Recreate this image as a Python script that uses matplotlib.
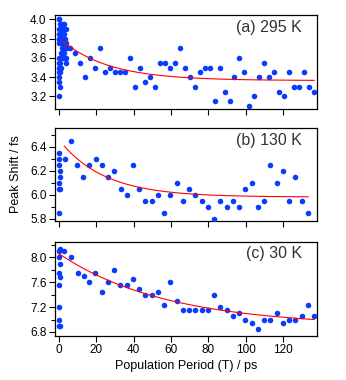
"""
Peak shift vs population period at three temperatures, with exponential fits
"""

import numpy as np
import matplotlib.pyplot as plt

plt.rcParams['font.family'] = ['Liberation Sans', 'DejaVu Sans']

# (a) 295 K
t_a = [0, 0, 0, 0, 0, 0, 0, 0, 0, 0.3, 0.3, 0.3, 0.3, 0.3, 0.6, 0.6, 0.6, 0.6, 0.6,
       1.0, 1.0, 1.0, 1.0, 1.4, 1.4, 1.4, 1.8, 1.8, 1.8, 2.2, 2.2, 2.2, 2.2,
       2.6, 2.6, 2.6, 3.0, 3.0, 3.0, 3.4, 3.4, 3.8, 3.8, 3.8, 3.8, 4.4,
       6.0, 8.9, 11.6, 14.2, 16.9, 19.6, 22.3, 24.9, 27.6, 30.3, 32.9, 35.6,
       38.3, 40.9, 43.6, 46.3, 49.0, 51.6, 54.3, 57.0, 59.6, 62.3, 65.0, 67.6,
       70.3, 73.0, 75.6, 78.3, 81.0, 83.7, 86.3, 89.0, 91.7, 93.8, 96.5, 99.2,
       101.8, 104.5, 107.2, 109.8, 112.5, 115.2, 117.8, 120.5, 123.2, 125.8,
       128.5, 131.2, 133.9, 136.5]
y_a = [3.20, 3.35, 3.45, 3.55, 3.60, 3.75, 3.80, 3.85, 4.00, 3.40, 3.50, 3.80, 3.90, 4.00,
       3.30, 3.45, 3.55, 3.85, 3.95, 3.50, 3.60, 3.75, 3.90, 3.65, 3.85, 3.95,
       3.60, 3.70, 3.80, 3.65, 3.75, 3.90, 3.95, 3.60, 3.70, 3.85, 3.65, 3.75, 3.95,
       3.70, 3.80, 3.55, 3.60, 3.75, 3.90, 3.70,
       3.70, 3.65, 3.55, 3.40, 3.60, 3.50, 3.70, 3.45, 3.50, 3.45, 3.45, 3.45,
       3.60, 3.30, 3.50, 3.35, 3.40, 3.30, 3.55, 3.55, 3.50, 3.55, 3.70, 3.50,
       3.40, 3.30, 3.45, 3.50, 3.50, 3.15, 3.50, 3.25, 3.15, 3.40, 3.60, 3.45,
       3.10, 3.20, 3.40, 3.55, 3.40, 3.45, 3.25, 3.20, 3.45, 3.30,
       3.30, 3.45, 3.30, 3.25]

# (b) 130 K
t_b = [0, 0, 0, 0.5, 0.5, 0, 0, 0.5, 0, 3.2, 6.6, 10.0, 13.2, 16.4, 19.8, 23.3,
       26.5, 29.7, 33.1, 36.5, 39.9, 43.1, 46.3, 50.0, 53.2, 56.4, 59.6, 63.2,
       66.6, 69.8, 73.0, 76.5, 79.9, 83.1, 86.3, 89.9, 93.3, 96.5, 99.7, 103.2,
       106.6, 109.8, 113.0, 116.4, 120.0, 123.2, 126.4, 129.9, 133.3]
y_b = [6.35, 6.30, 6.25, 6.20, 6.15, 6.10, 6.05, 6.05, 5.85, 6.30, 6.45, 6.25, 6.15,
       6.25, 6.30, 6.25, 6.15, 6.20, 6.05, 6.00, 6.25, 6.05, 5.95, 5.95, 6.00,
       5.85, 6.00, 6.10, 5.95, 6.05, 6.00, 5.95, 5.90, 5.80, 5.95, 5.90, 5.95,
       5.90, 6.05, 6.10, 5.90, 5.95, 6.25, 6.10, 6.20, 5.95, 6.15, 5.95, 5.85]

# (c) 30 K
t_c = [0.5, 0, 3.0, 0, 6.7, 0.5, 0, 0.5, 10.1, 0, 13.3, 16.4, 19.6, 23.3, 26.5,
       29.7, 32.9, 36.7, 0, 0, 0, 0.5, 39.9, 43.1, 46.3, 50.0, 53.2, 56.4, 59.6,
       63.2, 66.6, 69.8, 73.0, 76.5, 79.9, 83.1, 86.3, 89.9, 93.3, 96.5, 99.7,
       103.2, 106.6, 109.8, 113.0, 116.4, 120.0, 123.2, 126.4, 129.9, 133.3, 136.5]
y_c = [8.14, 8.10, 8.10, 8.00, 8.00, 7.89, 7.74, 7.69, 7.74, 7.55, 7.70, 7.60, 7.74,
       7.44, 7.60, 7.79, 7.55, 7.55, 7.20, 6.99, 6.89, 6.89, 7.65, 7.49, 7.39,
       7.39, 7.44, 7.24, 7.60, 7.29, 7.15, 7.15, 7.15, 7.15, 7.15, 7.39, 7.20,
       7.15, 7.05, 7.10, 6.99, 6.94, 6.84, 6.99, 6.99, 7.10, 6.94, 6.99, 6.99,
       7.05, 7.24, 7.05]

# exponential fit: y0 + A*exp(-T/tau), drawn from t_start to t_end
fit_a = (3.365, 0.445, 25.5, 2.0, 136.5)
fit_b = (5.98, 0.48, 24.2, 3.0, 133.3)
fit_c = (6.89, 1.17, 57.7, 0.0, 136.5)

labels = ['(a) 295 K', '(b) 130 K', '(c) 30 K']
ylims = [(3.07, 4.045), (5.78, 6.556), (6.735, 8.246)]
yticks = [[3.2, 3.4, 3.6, 3.8, 4.0], [5.8, 6.0, 6.2, 6.4], [6.8, 7.2, 7.6, 8.0]]
yminor = [[], [5.9, 6.1, 6.3, 6.5], [7.0, 7.4, 7.8, 8.2]]
xticks = [0, 20, 40, 60, 80, 100, 120]

fig = plt.figure(figsize=(3.46, 3.80), dpi=100)
boxes = [[0.159, 0.7132, 0.757, 0.2473],
         [0.159, 0.4184, 0.757, 0.2446],
         [0.159, 0.1158, 0.757, 0.2473]]
label_y = [0.872, 0.865, 0.88]

data = [(t_a, y_a, fit_a), (t_b, y_b, fit_b), (t_c, y_c, fit_c)]
for i, (t, y, fit) in enumerate(data):
    ax = fig.add_axes(boxes[i])
    ax.plot(t, y, 'o', color='#0a3cff', markersize=4.0, markeredgewidth=0, zorder=3)
    y0, amp, tau, t0, t1 = fit
    tt = np.linspace(t0, t1, 200)
    ax.plot(tt, y0 + amp * np.exp(-tt / tau), color='#ff0000', linewidth=0.8, zorder=4)
    ax.set_xlim(-2, 138)
    ax.set_ylim(*ylims[i])
    ax.set_xticks(xticks)
    ax.set_yticks(yticks[i])
    ax.set_yticks(yminor[i], minor=True)
    ax.tick_params(direction='out', length=4, width=0.8, labelsize=8.5, pad=2)
    ax.tick_params(which='minor', direction='out', length=3, width=0.8)
    for s in ax.spines.values():
        s.set_linewidth(0.9)
    if i < 2:
        ax.set_xticklabels([])
    else:
        ax.set_xlabel('Population Period (T) / ps', fontsize=9, labelpad=2.5)
    if i == 1:
        ax.set_ylabel('Peak Shift / fs', fontsize=9, labelpad=6)
    ax.text(0.943, label_y[i], labels[i], transform=ax.transAxes, ha='right', va='center',
            fontsize=11.5, color='#333333')

plt.savefig('out.png', dpi=100)
